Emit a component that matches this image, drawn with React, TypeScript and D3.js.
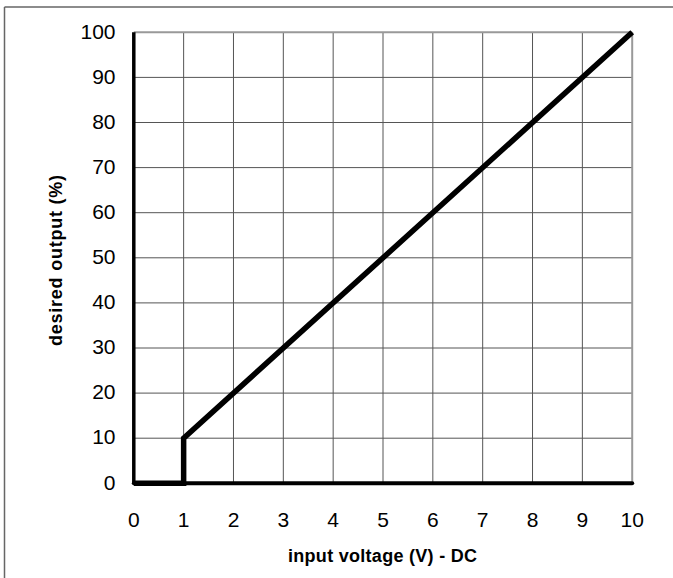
import React from "react";
import * as d3 from "d3";

const xTicks = [0, 1, 2, 3, 4, 5, 6, 7, 8, 9, 10];
const yTicks = [0, 10, 20, 30, 40, 50, 60, 70, 80, 90, 100];
const lineX = [0, 1, 1, 10];
const lineY = [0, 0, 10, 100];
const xTitle = "input voltage (V) - DC";
const yTitle = "desired output (%)";

export default function App() {
  const W = 673, H = 578;
  const x = d3.scaleLinear().domain([0, 10]).range([133.8, 632.2]);
  const y = d3.scaleLinear().domain([0, 100]).range([483.3, 32.3]);
  const pts: [number, number][] = lineX.map((v, i) => [x(v), y(lineY[i])]);
  const line = d3.line();
  const font = "Liberation Sans, Arial, sans-serif";
  return (
    <svg width={W} height={H} style={{ position: "absolute", left: 0, top: 0, background: "#fff" }}>
      <rect x={0} y={0} width={W} height={H} fill="#fff" />
      {/* outer frame */}
      <line x1={4.5} y1={7} x2={4.5} y2={H} stroke="#666" strokeWidth={1.5} />
      <line x1={4.5} y1={7} x2={W} y2={7} stroke="#666" strokeWidth={1.5} />
      {/* grid */}
      {xTicks.slice(1, -1).map((t) => (
        <line key={"gx" + t} x1={x(t)} x2={x(t)} y1={y(100)} y2={y(0)} stroke="#555" strokeWidth={1} />
      ))}
      {yTicks.slice(1, -1).map((t) => (
        <line key={"gy" + t} x1={x(0)} x2={x(10)} y1={y(t)} y2={y(t)} stroke="#555" strokeWidth={1} />
      ))}
      {/* top and right frame */}
      <line x1={x(0)} x2={x(10)} y1={y(100)} y2={y(100)} stroke="#999" strokeWidth={2} />
      <line x1={x(10)} x2={x(10)} y1={y(100)} y2={y(0)} stroke="#999" strokeWidth={2} />
      {/* axes */}
      <line x1={x(0)} x2={x(0)} y1={y(100)} y2={y(0)} stroke="#000" strokeWidth={3.5} />
      <line x1={x(0)} x2={x(10)} y1={y(0)} y2={y(0)} stroke="#000" strokeWidth={4} strokeLinecap="round" />
      {/* data */}
      <path d={line(pts) || ""} fill="none" stroke="#000" strokeWidth={5.5} strokeLinejoin="miter" />
      {/* tick labels */}
      {yTicks.map((t) => (
        <text key={"ly" + t} x={115.5} y={y(t) + 6.2} textAnchor="end" fontFamily={font} fontSize={21} fill="#000">
          {t}
        </text>
      ))}
      {xTicks.map((t) => (
        <text key={"lx" + t} x={x(t)} y={527} textAnchor="middle" fontFamily={font} fontSize={21} fill="#000">
          {t}
        </text>
      ))}
      {/* titles */}
      <text x={382.5} y={562} textAnchor="middle" fontFamily={font} fontSize={18} fontWeight="bold" textLength={189} lengthAdjust="spacing">
        {xTitle}
      </text>
      <text transform={`translate(61.5,260.5) rotate(-90)`} textAnchor="middle" fontFamily={font} fontSize={18} fontWeight="bold" textLength={171} lengthAdjust="spacing">
        {yTitle}
      </text>
    </svg>
  );
}
